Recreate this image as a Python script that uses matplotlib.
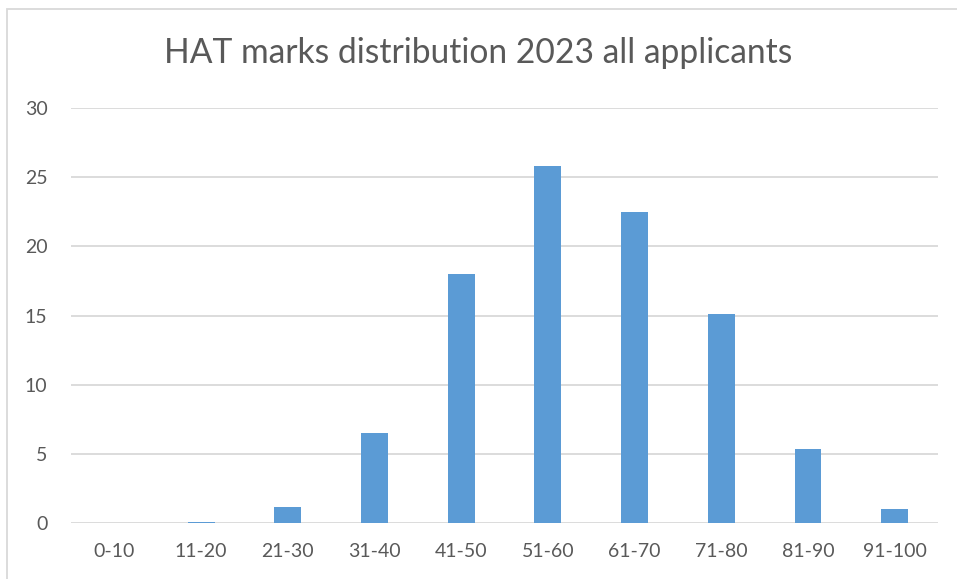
import matplotlib
matplotlib.use('Agg')
import matplotlib.pyplot as plt
from matplotlib.patches import Rectangle

plt.rcParams['font.family'] = ['Lato', 'DejaVu Sans']

# data
bins = ['0-10', '11-20', '21-30', '31-40', '41-50',
        '51-60', '61-70', '71-80', '81-90', '91-100']
share = [0.0, 0.1, 1.2, 6.5, 18.0, 25.8, 22.5, 15.1, 5.4, 1.05]
y_ticks = [0, 5, 10, 15, 20, 25, 30]

BAR = '#5b9bd5'
GRID = '#d9d9d9'
TEXT = '#595959'

fig = plt.figure(figsize=(9.57, 5.79), dpi=100)
fig.patch.set_facecolor('white')
ax = fig.add_axes([0.0742, 0.0962, 0.906, 0.7173])

# chart frame, cut off at right/bottom like the screenshot
fig.patches.append(Rectangle((7 / 957, -0.05), 1.2, 1 - 9 / 579 + 0.05,
                             transform=fig.transFigure, fill=False,
                             edgecolor=GRID, linewidth=1.3))

x = range(len(bins))
ax.bar(x, share, width=0.31, color=BAR, edgecolor='none', zorder=3)

ax.set_xlim(-0.5, len(bins) - 0.5)
ax.set_ylim(0, 30)
ax.set_yticks(y_ticks)
ax.set_xticks(list(x))
ax.set_xticklabels(bins)
ax.yaxis.grid(True, color=GRID, linewidth=1.3, zorder=0)
for sp in ax.spines.values():
    sp.set_visible(False)
ax.tick_params(axis='both', length=0, labelsize=14, colors=TEXT)
ax.tick_params(axis='y', pad=17)
ax.tick_params(axis='x', pad=14)

fig.text(0.5, 1 - 53 / 579, 'HAT marks distribution 2023 all applicants',
         ha='center', va='center', fontsize=24.2, color=TEXT)

fig.savefig('out.png', dpi=100, facecolor='white')
